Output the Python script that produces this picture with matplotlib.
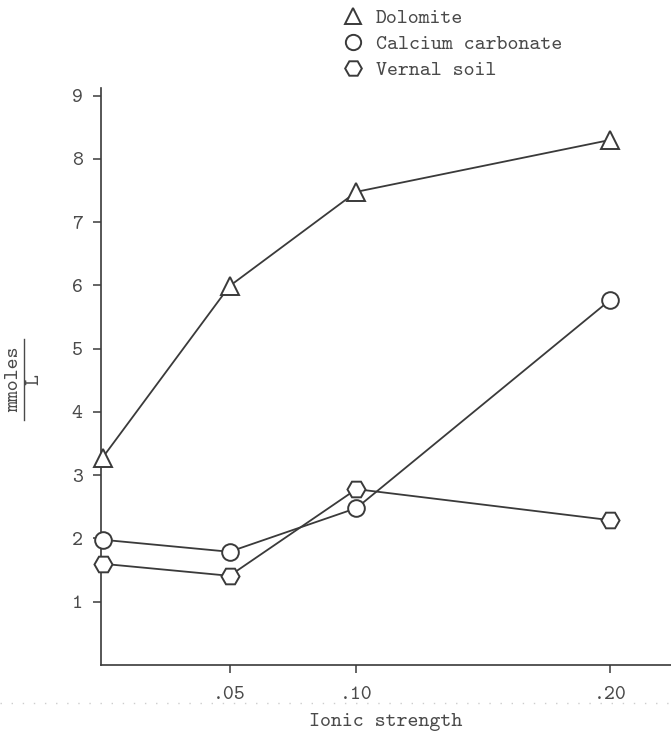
import matplotlib.pyplot as plt
from matplotlib.lines import Line2D

# ionic strength on x, mmoles/L on y
ionic = [0.0, 0.05, 0.10, 0.20]
dolomite = [3.28, 5.99, 7.48, 8.30]
calcium_carbonate = [1.98, 1.79, 2.48, 5.77]
vernal_soil = [1.60, 1.41, 2.78, 2.29]

x_ticks = [0.05, 0.10, 0.20]
x_labels = ['.05', '.10', '.20']
y_ticks = [1, 2, 3, 4, 5, 6, 7, 8, 9]

ink = '#3a3a3a'
text_ink = '#4a4a4a'
mono = 'cmtt10'
fs = 15
plt.rcParams['axes.unicode_minus'] = False

fig = plt.figure(figsize=(6.71, 7.34), dpi=100)
ax = fig.add_axes([0.150, 0.094, 0.850, 0.786])

series = [
    (dolomite, '^', 'Dolomite', 13),
    (calcium_carbonate, 'o', 'Calcium carbonate', 12),
    (vernal_soil, 'H', 'Vernal soil', 13),
]
handles = []
for vals, mk, name, ms in series:
    ax.plot(ionic, vals, color=ink, lw=1.3, marker=mk, ms=ms,
            mfc='white', mec=ink, mew=1.4, clip_on=False, zorder=3)
    handles.append(Line2D([], [], ls='none', marker=mk, ms=ms - 1,
                          mfc='white', mec=ink, mew=1.4, label=name))

ax.set_xlim(-0.0008, 0.224)
ax.set_ylim(0, 9.12)
ax.set_xticks(x_ticks)
ax.set_xticklabels(x_labels)
ax.set_yticks(y_ticks)

for side in ['top', 'right']:
    ax.spines[side].set_visible(False)
for side in ['left', 'bottom']:
    ax.spines[side].set_color(ink)
    ax.spines[side].set_linewidth(1.2)

ax.tick_params(axis='both', colors=ink, length=6, width=1.1,
               labelsize=fs, labelcolor=text_ink)
ax.tick_params(axis='x', pad=9)
ax.tick_params(axis='y', pad=7)
for lab in ax.get_xticklabels() + ax.get_yticklabels():
    lab.set_family(mono)

ax.set_xlabel('Ionic strength', family=mono, fontsize=fs, color=text_ink,
              va='center')
ax.xaxis.set_label_coords(0.5, -0.098)

# y label written as a fraction: mmoles over L
fig.text(0.021, 0.483, 'mmoles', rotation=90, family=mono, fontsize=fs,
         color=text_ink, ha='center', va='center')
fig.text(0.051, 0.483, 'L', rotation=90, family=mono, fontsize=fs,
         color=text_ink, ha='center', va='center')
fig.add_artist(Line2D([0.036, 0.036], [0.428, 0.538], color=text_ink,
                      lw=1.0, transform=fig.transFigure))

# faint dotted rule across the page below the tick labels
fig.add_artist(Line2D([0.0, 1.0], [0.042, 0.042], color='#cdcdcd', lw=1.0,
                      ls=(0, (1, 7)), transform=fig.transFigure))

fig.legend(handles=handles, loc='upper left', bbox_to_anchor=(0.495, 1.0),
           frameon=False, prop={'family': mono, 'size': fs},
           labelcolor=text_ink, handletextpad=0.5, labelspacing=0.32,
           borderaxespad=0.0, handlelength=1.2)

fig.savefig('out.png', dpi=100, facecolor='white')
